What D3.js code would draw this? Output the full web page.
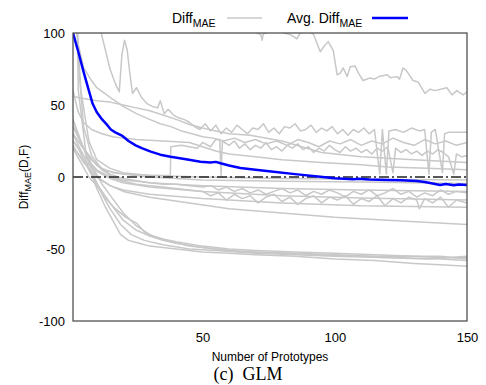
<!DOCTYPE html>
<html>
<head>
<meta charset="utf-8">
<script src="https://cdnjs.cloudflare.com/ajax/libs/d3/7.8.5/d3.min.js"></script>
<style>
  body { margin: 0; background: #fff; }
  svg { display: block; font-family: "Liberation Sans", Arial, sans-serif; }
</style>
</head>
<body>
<svg id="chart"></svg>
<script>
// tick labels
const xTicks = [50, 100, 150];
const yTicks = [-100, -50, 0, 50, 100];

// average over all data sets, [prototypes, diff]
const avgDiff = [[1,100],[3,87],[5,73],[7,60],[8.4,51],[10,45],[12,40],[14,36],[15.3,33],[17,31],[19.7,28.5],[22,25],[24.7,22],[27,20],[30.4,17.6],[34,15.5],[37.9,14],[42,12.8],[45.4,11.8],[49.2,10.6],[53,10],[55,10.5],[56.8,9.5],[60,8],[64.3,6.2],[70,5],[76.8,3.7],[85,2],[94.5,0.2],[100,-0.8],[107,-1.6],[109,-1.2],[113,-1.8],[119.7,-2],[125,-2.2],[131,-2.8],[134,-3.5],[137,-4.5],[139.8,-5.5],[142,-4.8],[145,-5.8],[147,-5.2],[150,-5.5]];

// single data sets, [prototypes, diff]
const diffTop = [[1,400],[40,140],[60,112],[68,103],[70,100.5],[72,99],[72.5,95],[73,99.5],[76,101],[80,100.5],[83,99],[85.7,96],[87,100.2],[90,101],[92,99],[94.5,87],[96,91],[97.5,94],[99.4,88],[100.9,71],[102,72],[103.2,75.7],[104.7,69.7],[105.8,76.6],[107.7,77],[109,72],[110.7,67],[113.3,68.7],[115,68],[117,70],[119.8,71],[121,69],[123.5,69.7],[124.5,68],[125.8,75.7],[127,74],[129.6,67],[131.5,66],[134.1,58],[136,61],[138,60],[140,61],[142.4,62],[144.3,57],[146.2,60],[148.5,57],[150,59]];
const diffSpiky = [[1,400],[5,200],[8,140],[11,105],[13,90],[15,75],[17,65],[18.5,59],[19.5,85],[20.5,95],[21.5,88],[22.5,72],[23.5,58],[25,62],[27,55],[29,51],[31,49],[33,48],[34,53],[35.5,44],[37,47],[39,43],[41,41],[43,40],[45,38],[47,35],[49,33],[51,37],[53,32],[55,36],[57,30],[59,34],[61,31],[63,36],[65,33],[67,30],[69,34],[71,33],[73,37],[75,31],[77,34],[79,30],[81,35],[83,34],[85,37],[87,32],[89,33],[91,36],[93,31],[95,34],[97,32],[99,35],[101,30],[103,33],[105,29],[107,33],[109,31],[111,34],[113,30],[115,33],[117,2],[118,33],[119.5,2],[120.5,32],[123,33],[126,31],[129,34],[132,32],[134,33],[135.6,2],[136.5,31],[138,33],[140.7,3],[141.5,30],[143,31],[146,31],[150,31]];
const diffStep = [[1,40],[3,28],[5,20],[8,12],[12,6],[16,3],[20,2],[25,1.5],[30,1.2],[35,1],[37.8,1],[38,21],[42,22],[45,21],[48,20],[50,24],[53,21],[55,26],[56.5,26],[57,1],[57.5,25],[60,22],[62,25],[64,20],[66,23],[68,19],[70,22],[72,20],[74,24],[76,19],[78,21],[80,18],[82,22],[84,20],[86,23],[88,19],[90,21],[92,17],[94,20],[96,18],[98,22],[100,19],[102,17],[104,21],[106,18],[108,20],[110,17],[112,19],[114,16],[116,20],[118,18],[120,21],[122,3],[123,20],[125,17],[127,19],[129,16],[131,18],[133,15],[135,18],[137,16],[139,19],[141,17],[143,14],[145,2],[146,16],[148,14],[150,15]];
const diffMidA = [[1,120],[3,92],[5,76],[8,67],[10,62],[13,58],[16,54],[20,49],[25,44],[30,40],[34,37],[38,35],[42,32],[46,30],[50,28],[54,27],[58,25],[62,27],[66,24],[70,26],[74,23],[78,25],[82,22],[86,26],[90,24],[94,21],[98,25],[102,23],[106,26],[110,22],[114,25],[118,23],[122,27],[126,24],[130,22],[134,26],[138,23],[142,25],[146,22],[150,24]];
const diffMidB = [[1,56],[5,54.5],[10,53],[15,52],[20,50],[25,48],[30,46],[35,43],[40,40],[45,36.5],[50,34],[55,32],[60,30],[68,29],[80,25],[95,17],[110,14],[130,12],[150,10]];
const diffMidC = [[1,60],[3,45],[5,38],[8,33],[12,30],[16,28],[20,27],[25,26],[30,25.5],[35,25],[40,24.5],[45,24],[50,21],[55,18],[60,16],[70,14],[80,12],[95,10],[110,8.5],[120,7],[135,6],[150,5]];
const diffZeroA = [[1,150],[4,60],[7,25],[10,12],[15,6],[20,3],[30,1],[50,0],[80,-1],[110,-1.5],[150,-2]];
const diffZeroB = [[1,30],[4,22],[8,12],[12,5],[20,2],[30,0],[50,-2],[80,-3],[110,-3.5],[150,-4.5]];
const diffZeroC = [[1,250],[3,80],[5,35],[8,15],[12,5],[16,0],[20,-2],[25,-3],[30,-4],[35,-5],[40,-5],[45,-6],[50,-7],[53,-6],[56,-9],[59,-7],[62,-10],[65,-8],[68,-11],[71,-9],[74,-12],[77,-10],[80,-8],[83,-11],[86,-9],[89,-13],[92,-10],[95,-12],[98,-9],[101,-11],[104,-14],[107,-10],[110,-12],[113,-9],[116,-13],[119,-11],[122,-8],[125,-12],[128,-10],[131,-14],[134,-11],[137,-13],[140,-9],[143,-12],[146,-10],[150,-11]];
const diffZeroD = [[1,25],[5,15],[10,5],[15,0],[20,-3],[25,-5],[30,-6],[35,-7],[40,-8],[45,-9],[50,-10],[53,-13],[56,-11],[59,-16],[62,-12],[65,-15],[68,-13],[71,-18],[74,-14],[77,-12],[80,-17],[83,-14],[86,-19],[89,-15],[92,-13],[95,-18],[98,-14],[101,-16],[104,-13],[107,-19],[110,-15],[113,-17],[116,-13],[119,-20],[122,-15],[125,-18],[128,-14],[131,-16],[132,-22],[134,-15],[137,-18],[140,-14],[143,-21],[146,-16],[150,-18]];
const diffZeroE = [[1,35],[5,20],[10,8],[15,2],[20,-1],[30,-4],[50,-6],[80,-8],[110,-9],[150,-10]];
const diffZeroF = [[1,20],[5,12],[10,4],[15,-1],[20,-4],[30,-7],[50,-10],[80,-13],[110,-14.5],[150,-16]];
const diffLowA = [[1,22],[5,10],[10,0],[15,-6],[20,-10],[30,-14],[45,-18],[60,-22],[80,-25],[100,-28],[120,-30],[150,-33]];
const diffLowB = [[1,300],[3,60],[6,15],[10,0],[15,-6],[20,-9],[30,-12],[50,-15],[80,-18],[110,-20],[150,-21]];
const diffBottomA = [[1,30],[3,22],[5,15],[8,2],[10,-8],[13,-20],[16,-30],[19,-40],[22,-44],[26,-46],[30,-48],[40,-50],[50,-52],[60,-53],[70,-54],[85,-55],[100,-57],[115,-58],[130,-60],[140,-61],[150,-62]];
const diffBottomB = [[1,25],[3,20],[5,12],[9,-2],[12,-10],[15,-18],[20,-30],[25,-37],[30,-41],[35,-44],[40,-46],[50,-49],[60,-51],[70,-52],[85,-53],[100,-54],[115,-55],[130,-55],[140,-56],[150,-56]];
const diffBottomC = [[1,35],[3,28],[5,20],[9,5],[12,-5],[16,-15],[20,-25],[25,-34],[30,-40],[35,-43],[40,-45],[50,-48],[60,-50],[70,-51],[85,-52],[100,-53],[115,-54],[130,-55],[140,-55],[150,-57]];
const diffBottomD = [[1,20],[4,10],[7,0],[10,-6],[13,-14],[17,-22],[21,-28],[25,-32],[28,-38],[32,-42],[38,-45],[45,-48],[55,-50],[65,-52],[80,-53],[95,-54],[110,-55],[125,-56],[140,-57],[150,-58]];
const diffBottomE = [[1,40],[3,30],[6,15],[9,0],[12,-12],[15,-22],[19,-33],[23,-40],[28,-44],[35,-47],[45,-50],[55,-51],[70,-53],[85,-54],[100,-55],[120,-56],[135,-57],[150,-55]];

const diffSets = [diffTop, diffSpiky, diffStep, diffMidA, diffMidB, diffMidC,
    diffZeroA, diffZeroB, diffZeroC, diffZeroD, diffZeroE, diffZeroF,
    diffLowA, diffLowB, diffBottomA, diffBottomB, diffBottomC, diffBottomD, diffBottomE];

function DrawDiffChart(targetElem, width, height) {
    const margin = {top: 33, right: 19, bottom: 64, left: 73};
    const grayColor = '#c8c8c8';
    const blueColor = '#0000ff';

    const svg = d3.select(targetElem)
        .attr('width', width)
        .attr('height', height);

    svg.selectAll('*').remove();

    const xScale = d3.scaleLinear()
        .domain([1, 150])
        .range([margin.left, width - margin.right]);

    const yScale = d3.scaleLinear()
        .domain([-100, 100])
        .range([height - margin.bottom, margin.top]);

    // clip lines to the plot box
    svg.append('clipPath')
        .attr('id', 'plotClip')
        .append('rect')
        .attr('x', margin.left)
        .attr('y', margin.top)
        .attr('width', width - margin.left - margin.right)
        .attr('height', height - margin.top - margin.bottom);

    const line = d3.line()
        .x(d => xScale(d[0]))
        .y(d => yScale(d[1]));

    const plot = svg.append('g').attr('clip-path', 'url(#plotClip)');

    // single data sets
    diffSets.forEach(set => {
        plot.append('path')
            .datum(set)
            .attr('d', line)
            .attr('fill', 'none')
            .attr('stroke', grayColor)
            .attr('stroke-width', 1.5)
            .attr('stroke-linejoin', 'round');
    });

    // zero line
    plot.append('line')
        .attr('x1', xScale(1))
        .attr('x2', xScale(150))
        .attr('y1', yScale(0))
        .attr('y2', yScale(0))
        .attr('stroke', '#222')
        .attr('stroke-width', 1.3)
        .attr('stroke-dasharray', '10,3,2,3');

    // average
    plot.append('path')
        .datum(avgDiff)
        .attr('d', line)
        .attr('fill', 'none')
        .attr('stroke', blueColor)
        .attr('stroke-width', 2.5)
        .attr('stroke-linejoin', 'round');

    // frame
    svg.append('rect')
        .attr('x', margin.left)
        .attr('y', margin.top)
        .attr('width', width - margin.left - margin.right)
        .attr('height', height - margin.top - margin.bottom)
        .attr('fill', 'none')
        .attr('stroke', '#444')
        .attr('stroke-width', 1.2);

    // x axis
    const xAxis = svg.append('g')
        .attr('transform', `translate(0, ${height - margin.bottom})`)
        .call(d3.axisBottom(xScale).tickValues(xTicks).tickSize(0).tickPadding(12)
            .tickFormat(d => String(d)));
    xAxis.select('.domain').remove();
    xAxis.attr('font-size', 13).attr('font-family', '"Liberation Sans", Arial, sans-serif');
    xAxis.selectAll('text').attr('fill', '#000');

    // y axis, plain hyphen for negatives
    const yAxis = svg.append('g')
        .attr('transform', `translate(${margin.left}, 0)`)
        .call(d3.axisLeft(yScale).tickValues(yTicks).tickSize(0).tickPadding(8)
            .tickFormat(d => String(d)));
    yAxis.select('.domain').remove();
    yAxis.attr('font-size', 13).attr('font-family', '"Liberation Sans", Arial, sans-serif');
    yAxis.selectAll('text').attr('fill', '#000');

    // axis titles
    svg.append('text')
        .attr('x', 270)
        .attr('y', 360.5)
        .attr('text-anchor', 'middle')
        .attr('font-size', 12)
        .text('Number of Prototypes');

    const yTitle = svg.append('text')
        .attr('transform', 'translate(27.5, 177) rotate(-90)')
        .attr('text-anchor', 'middle')
        .attr('font-size', 12);
    yTitle.append('tspan').text('Diff');
    yTitle.append('tspan').attr('font-size', 9).attr('dy', 3).text('MAE');
    yTitle.append('tspan').attr('dy', -3).text('(D,F)');

    // caption
    svg.append('text')
        .attr('x', 248)
        .attr('y', 380)
        .attr('text-anchor', 'middle')
        .attr('font-family', '"Liberation Serif", "Times New Roman", serif')
        .attr('font-size', 18)
        .attr('xml:space', 'preserve')
        .text('(c)  GLM');

    // legend
    const leg1 = svg.append('text')
        .attr('x', 172)
        .attr('y', 23)
        .attr('font-size', 14);
    leg1.append('tspan').text('Diff');
    leg1.append('tspan').attr('font-size', 10.5).attr('dy', 4).text('MAE');

    svg.append('line')
        .attr('x1', 227).attr('x2', 262)
        .attr('y1', 18).attr('y2', 18)
        .attr('stroke', grayColor)
        .attr('stroke-width', 1.5);

    const leg2 = svg.append('text')
        .attr('x', 287)
        .attr('y', 23)
        .attr('font-size', 14);
    leg2.append('tspan').text('Avg. Diff');
    leg2.append('tspan').attr('font-size', 10.5).attr('dy', 4).text('MAE');

    svg.append('line')
        .attr('x1', 372).attr('x2', 408)
        .attr('y1', 18).attr('y2', 18)
        .attr('stroke', blueColor)
        .attr('stroke-width', 2.5);
}

DrawDiffChart('#chart', 486, 385);
</script>
</body>
</html>
